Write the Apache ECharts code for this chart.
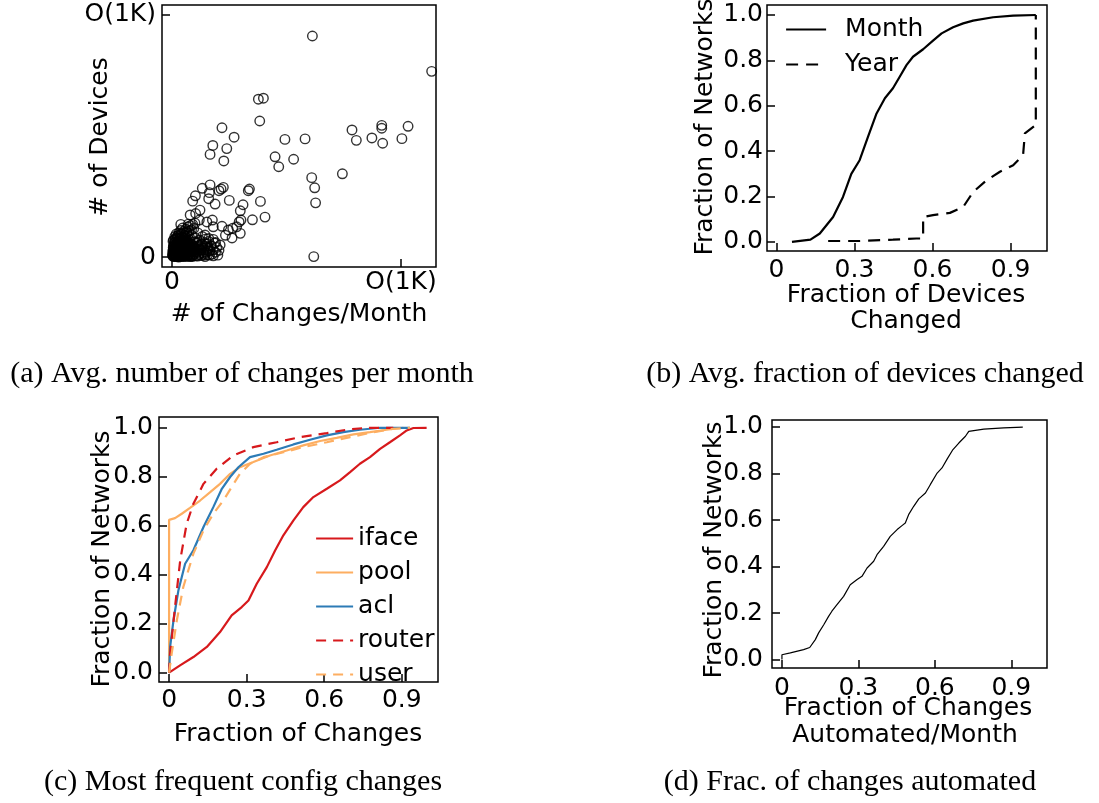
<!DOCTYPE html>
<html><head><meta charset="utf-8">
<script src="https://cdn.jsdelivr.net/npm/echarts@6.0.0/dist/echarts.min.js"></script>
<style>html,body{margin:0;padding:0;background:#fff}#c{width:1099px;height:803px}</style>
</head><body><div id="c"></div>
<script>
// ---------- DATA ----------
// (a) scatter: # of changes/month vs # of devices (1000 = "O(1K)")
const scatterX = [613,1134,377,399,383,218,271,178,239,166,226,493,581,450,466,531,610,623,627,619,744,786,805,873,916,916,920,1004,1031,
  333,338,386,406,351,310,298,293,301,298,262,246,265,282,233,250,224,214,205,166,132,102,90,160,188,163,122,176,180,218,152,160,180,144,79,71,38,103,119,
  5,8,12,15,18,20,22,25,28,30,32,35,36,38,40,42,45,46,48,50,52,55,56,58,60,62,64,66,68,70,72,74,76,78,80,82,84,86,88,90,92,95,98,100,102,105,108,110,112,115,118,120,122,125,128,130,132,135,138,140,142,145,148,150,152,155,158,160,165,170,175,180,185,190,195,200,205,210,
  3,6,10,14,16,20,24,26,30,34,38,42,46,50,54,60,65,70,75,80,85,90,95,100,18,44,66,88,4,9,27,33,57,63,79,97,
  2,4,6,8,10,12,14,16,18,20,22,24,26,28,30,32,34,36,38,40,42,44,46,48,50,52,54,56,58,60,62,64,66,68,70,72,74,76,78,80,84,88,92,96,100,104,108,112,116,120,126,132,138,144,150,156,164,172,180,190,
  6,12,18,22,28,36,44,52,58,64,48,30,
  3,7,11,15,19,23,27,31,35,39,43,47,51,55,5,9,13,17,21,25,29,33,37,41,45,49,53,57,61,65,4,12,20,28,36,44,52,60,68,76];
const scatterY = [913,767,652,656,562,534,495,461,448,424,397,486,488,414,373,404,328,286,224,2,344,525,482,492,544,532,470,489,540,
  274,281,230,165,154,216,191,145,153,98,79,112,119,125,90,234,288,281,274,298,284,253,231,241,219,266,194,153,125,127,145,77,73,91,174,136,135,180,153,
  3,10,5,20,8,30,14,4,40,22,10,55,28,6,45,18,65,35,8,25,50,12,75,40,4,30,60,18,85,48,8,35,70,22,55,12,40,90,28,6,62,45,15,80,33,5,58,20,100,42,10,70,28,52,6,38,85,18,60,30,8,45,75,20,55,10,35,65,25,48,12,30,58,20,40,8,28,50,
  25,45,60,35,75,52,88,65,100,80,110,95,120,105,90,115,100,125,108,130,112,135,118,140,2,2,3,2,12,32,50,68,22,45,5,30,
  8,18,30,42,2,14,26,50,38,6,60,22,34,12,48,2,40,16,64,30,6,52,20,42,2,34,62,8,28,50,16,38,70,4,26,58,14,44,32,2,20,50,10,36,22,60,32,4,48,16,30,52,12,2,40,26,8,44,5,60,
  70,85,95,78,90,92,80,100,86,105,70,72,
  5,15,25,35,45,55,3,13,23,33,43,53,8,18,40,50,60,10,20,30,0,58,48,8,28,38,66,24,12,44,65,72,80,62,75,68,78,58,40,20];
const scatterTicks = [0, 1000];

// (b) fraction of devices changed
const monthX = [0.06,0.131,0.167,0.218,0.256,0.288,0.32,0.352,0.385,0.417,0.448,0.474,0.5,0.525,0.564,0.602,0.635,0.679,0.718,0.756,0.833,0.91,0.997];
const monthY = [0.0,0.01,0.037,0.11,0.198,0.30,0.36,0.463,0.566,0.633,0.677,0.728,0.779,0.816,0.849,0.887,0.919,0.946,0.963,0.975,0.99,0.997,1.0];
const yearX = [0.199,0.32,0.448,0.538,0.564,0.564,0.602,0.667,0.718,0.756,0.808,0.859,0.91,0.948,0.955,0.997,0.997];
const yearY = [0.004,0.004,0.01,0.015,0.015,0.11,0.118,0.128,0.154,0.22,0.272,0.309,0.338,0.382,0.478,0.515,1.0];

// (c) most frequent config changes
const ifaceX = [0,0.0425,0.094,0.146,0.197,0.242,0.281,0.307,0.339,0.378,0.41,0.442,0.481,0.519,0.558,0.61,0.661,0.70,0.738,0.777,0.816,0.854,0.893,0.919,0.945,0.996];
const ifaceY = [0,0.03,0.064,0.105,0.166,0.234,0.268,0.295,0.363,0.431,0.499,0.561,0.622,0.676,0.717,0.751,0.785,0.819,0.853,0.88,0.914,0.941,0.969,0.989,0.999,1.0];
const poolX = [0,0,0.023,0.049,0.081,0.12,0.159,0.197,0.236,0.274,0.326,0.39,0.455,0.519,0.584,0.648,0.713,0.777,0.841,0.906];
const poolY = [0,0.624,0.631,0.649,0.673,0.703,0.737,0.771,0.812,0.839,0.86,0.887,0.907,0.928,0.946,0.959,0.973,0.982,0.992,1.0];
const aclX = [0,0.004,0.017,0.036,0.062,0.094,0.133,0.171,0.204,0.236,0.268,0.313,0.365,0.416,0.481,0.545,0.61,0.674,0.738,0.816,0.932];
const aclY = [0,0.105,0.214,0.336,0.445,0.5,0.595,0.676,0.751,0.799,0.839,0.88,0.894,0.91,0.932,0.951,0.969,0.982,0.992,1.0,1.0];
const routerX = [0,0.004,0.023,0.043,0.068,0.094,0.133,0.184,0.249,0.326,0.416,0.506,0.61,0.687,0.764,0.867];
const routerY = [0,0.078,0.268,0.459,0.608,0.69,0.771,0.833,0.887,0.921,0.941,0.962,0.978,0.992,1.0,1.0];
const userX = [0,0.01,0.03,0.055,0.094,0.133,0.171,0.21,0.242,0.274,0.313,0.365,0.442,0.519,0.61,0.70,0.79,0.867,0.932];
const userY = [0,0.078,0.214,0.35,0.486,0.581,0.649,0.703,0.758,0.812,0.853,0.88,0.90,0.921,0.941,0.962,0.982,0.996,1.0];

// (d) fraction of changes automated
const autoX = [0,0,0.033,0.085,0.109,0.131,0.144,0.164,0.183,0.196,0.216,0.242,0.268,0.295,0.314,0.334,0.36,0.373,0.399,0.425,0.452,0.471,0.484,0.497,0.517,0.537,0.563,0.582,0.609,0.628,0.648,0.671,0.694,0.72,0.733,0.792,0.87,0.945];
const autoY = [0,0.021,0.029,0.043,0.052,0.086,0.115,0.15,0.186,0.208,0.236,0.272,0.322,0.344,0.358,0.394,0.423,0.451,0.487,0.53,0.559,0.576,0.587,0.623,0.659,0.691,0.716,0.752,0.802,0.824,0.862,0.903,0.931,0.96,0.981,0.991,0.996,0.999];

const fracTicksX = [0, 0.3, 0.6, 0.9];
const fracTicksY = [0, 0.2, 0.4, 0.6, 0.8, 1.0];
const captions = ['(a) Avg. number of changes per month','(b) Avg. fraction of devices changed','(c) Most frequent config changes','(d) Frac. of changes automated'];

// ---------- CHART ----------
const FONT = '"DejaVu Sans", sans-serif';
const SERIF = '"Liberation Serif", serif';
const zip = (xs, ys) => xs.map((x, i) => [x, ys[i]]);
const fmtX = v => v === 0 ? '0' : v.toFixed(1);
const fmtY = v => v.toFixed(1);

function axis(gi, min, max, ticks, fmt, margin) {
  return {
    type: 'value', gridIndex: gi, min: min, max: max, scale: false,
    axisLine: { show: false, onZero: false }, splitLine: { show: false },
    axisTick: { show: true, inside: true, length: 8, customValues: ticks, lineStyle: { color: '#000', width: 1.5 } },
    axisLabel: { customValues: ticks, formatter: fmt, margin: margin, color: '#000', fontFamily: FONT, fontSize: 25 }
  };
}

const gridBase = { show: true, borderColor: '#000', borderWidth: 1.5, backgroundColor: 'transparent', containLabel: false };

function txt(x, y, text, rot, font, size) {
  return { type: 'text', x: x, y: y, rotation: rot || 0, silent: true,
    style: { text: text, fill: '#000', fontFamily: font, fontSize: size,
             align: 'center', verticalAlign: 'middle', textAlign: 'center', textVerticalAlign: 'middle' } };
}

function line(name, xs, ys, gi, color, width, type) {
  return { name: name, type: 'line', xAxisIndex: gi, yAxisIndex: gi, data: zip(xs, ys),
    symbol: 'none', showSymbol: false, smooth: false, clip: true,
    lineStyle: { color: color, width: width, type: type }, itemStyle: { color: color } };
}

const RED = '#d7191c', ORANGE = '#fdae61', BLUE = '#2c7bb6';
const scatterFmt = v => v === 0 ? '0' : 'O(1K)';

const option = {
  animation: false,
  backgroundColor: '#fff',
  textStyle: { fontFamily: FONT },
  grid: [
    Object.assign({ left: 162, top: 5, width: 274, height: 262 }, gridBase),
    Object.assign({ left: 767, top: 5, width: 280, height: 246 }, gridBase),
    Object.assign({ left: 159, top: 417, width: 279, height: 265 }, gridBase),
    Object.assign({ left: 772, top: 420, width: 275, height: 248 }, gridBase)
  ],
  xAxis: [
    axis(0, -44, 1153, scatterTicks, scatterFmt, 3),
    axis(1, -0.036, 1.04, fracTicksX, fmtX, 7),
    axis(2, -0.039, 1.04, fracTicksX, fmtX, 6),
    axis(3, -0.039, 1.04, fracTicksX, fmtX, 8)
  ],
  yAxis: [
    axis(0, -41, 1041, scatterTicks, scatterFmt, 6),
    axis(1, -0.04, 1.044, fracTicksY, fmtY, 4),
    axis(2, -0.038, 1.044, fracTicksY, fmtY, 6),
    axis(3, -0.036, 1.03, fracTicksY, fmtY, 9)
  ],
  legend: [
    { data: ['Month', 'Year'], orient: 'vertical', left: 780, top: 12, itemWidth: 40, itemHeight: 14, itemGap: 10,
      itemStyle: { opacity: 0, borderWidth: 0 }, lineStyle: { width: 2.2 },
      textStyle: { color: '#000', fontFamily: FONT, fontSize: 25, lineHeight: 24, padding: [0, 0, 0, 14] } },
    { data: ['iface', 'pool', 'acl', 'router', 'user'], orient: 'vertical', left: 310, top: 521, itemWidth: 37, itemHeight: 14, itemGap: 9,
      itemStyle: { opacity: 0, borderWidth: 0 }, lineStyle: { width: 2.2 },
      textStyle: { color: '#000', fontFamily: FONT, fontSize: 25, lineHeight: 24 } }
  ],
  series: [
    { name: 'networks', type: 'scatter', xAxisIndex: 0, yAxisIndex: 0, data: zip(scatterX, scatterY),
      symbol: 'circle', symbolSize: 9.5,
      itemStyle: { color: 'rgba(0,0,0,0)', borderColor: '#000', borderWidth: 1.4 } },
    line('Month', monthX, monthY, 1, '#000', 2.2, 'solid'),
    line('Year', yearX, yearY, 1, '#000', 2.2, [12, 8]),
    line('iface', ifaceX, ifaceY, 2, RED, 2.2, 'solid'),
    line('pool', poolX, poolY, 2, ORANGE, 2.2, 'solid'),
    line('acl', aclX, aclY, 2, BLUE, 2.2, 'solid'),
    line('router', routerX, routerY, 2, RED, 2.2, [10, 7]),
    line('user', userX, userY, 2, ORANGE, 2.2, [10, 7]),
    line('automated', autoX, autoY, 3, '#000', 1.2, 'solid')
  ],
  graphic: [
    txt(100, 137, '# of Devices', Math.PI / 2, FONT, 25),
    txt(299, 314, '# of Changes/Month', 0, FONT, 25),
    txt(705, 127, 'Fraction of Networks', Math.PI / 2, FONT, 25),
    txt(906, 295, 'Fraction of Devices', 0, FONT, 25),
    txt(906, 321, 'Changed', 0, FONT, 25),
    txt(102, 559, 'Fraction of Networks', Math.PI / 2, FONT, 25),
    txt(298, 734, 'Fraction of Changes', 0, FONT, 25),
    txt(714, 550, 'Fraction of Networks', Math.PI / 2, FONT, 25),
    txt(908, 708, 'Fraction of Changes', 0, FONT, 25),
    txt(905, 735, 'Automated/Month', 0, FONT, 25),
    txt(242, 374, captions[0], 0, SERIF, 30),
    txt(865, 374, captions[1], 0, SERIF, 30),
    txt(243, 782, captions[2], 0, SERIF, 30),
    txt(850, 782, captions[3], 0, SERIF, 30)
  ]
};

const chart = echarts.init(document.getElementById('c'), null, { renderer: 'canvas' });
chart.setOption(option);
</script>
</body></html>
